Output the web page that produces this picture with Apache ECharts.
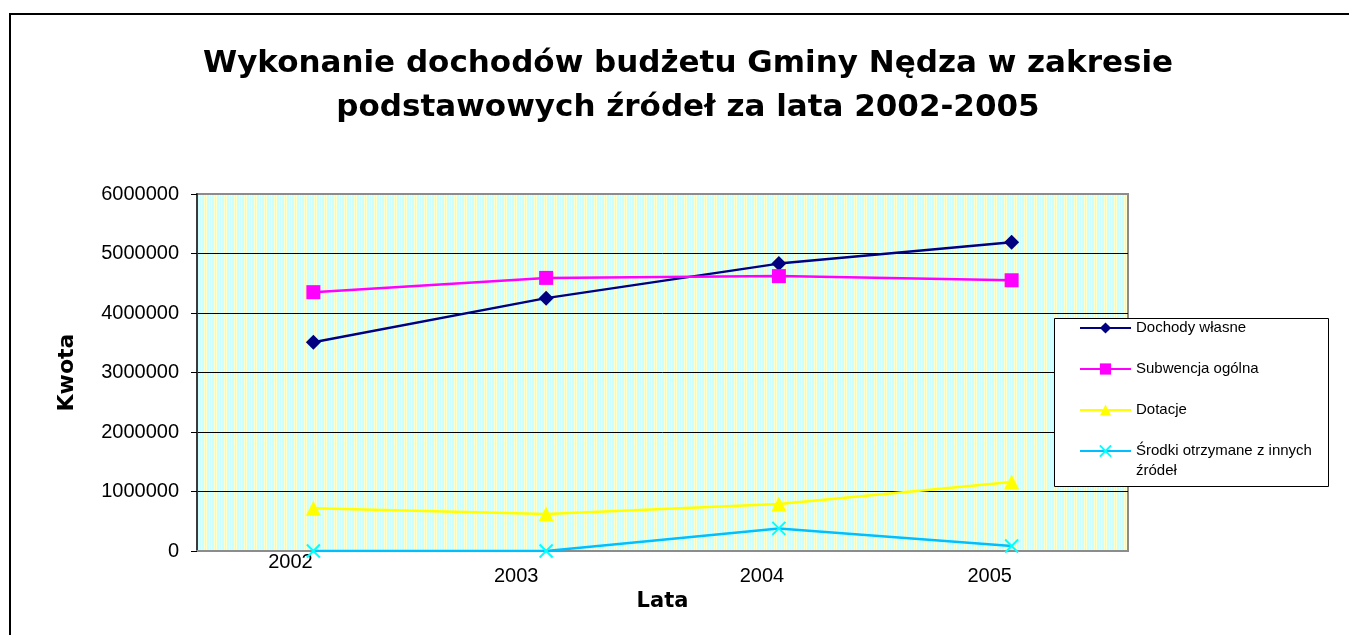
<!DOCTYPE html>
<html>
<head>
<meta charset="utf-8">
<script src="https://cdn.jsdelivr.net/npm/echarts@6/dist/echarts.min.js"></script>
<style>
  html, body { margin: 0; padding: 0; background: #fff; }
  #chart { width: 1349px; height: 635px; }
</style>
</head>
<body>
<div id="chart"></div>
<script>
const years = ['2002', '2003', '2004', '2005']
const yTicks = [0, 1000000, 2000000, 3000000, 4000000, 5000000, 6000000]
const dochodyWlasne = [3510000, 4250000, 4830000, 5190000]
const subwencja = [4350000, 4590000, 4620000, 4550000]
const dotacje = [720000, 620000, 790000, 1160000]
const srodkiInne = [0, 0, 380000, 85000]

const NAMES = ['Dochody własne', 'Subwencja ogólna', 'Dotacje', 'Środki otrzymane z innych źródeł']

// striped plot background like the old Excel fill
const tile = document.createElement('canvas')
const stripes = ['#ccffff', '#ffffcc', '#ccffff', '#ccffff', '#ffffcc']
tile.width = stripes.length
tile.height = 4
const tctx = tile.getContext('2d')
stripes.forEach((c, i) => { tctx.fillStyle = c; tctx.fillRect(i, 0, 1, 4) })

const chart = echarts.init(document.getElementById('chart'), null, { renderer: 'canvas' })

// per-label offsets for the staggered category labels
const labelRich = {
  l0: { fontSize: 20, lineHeight: 20, padding: [0, 46, 0, 0], color: '#000', fontFamily: 'Liberation Sans' },
  l1: { fontSize: 20, lineHeight: 48, padding: [0, 60, 0, 0], color: '#000', fontFamily: 'Liberation Sans' },
  l2: { fontSize: 20, lineHeight: 48, padding: [0, 34, 0, 0], color: '#000', fontFamily: 'Liberation Sans' },
  l3: { fontSize: 20, lineHeight: 48, padding: [0, 44, 0, 0], color: '#000', fontFamily: 'Liberation Sans' },
}

chart.setOption({
  animation: false,
  backgroundColor: '#fff',
  title: {
    text: 'Wykonanie dochodów budżetu Gminy Nędza w zakresie\npodstawowych źródeł za lata 2002-2005',
    left: 683,
    top: 37,
    textAlign: 'center',
    textStyle: { fontFamily: 'DejaVu Sans', fontWeight: 'bold', fontSize: 31, lineHeight: 44, color: '#000' },
  },
  graphic: {
    elements: [
      { type: 'rect', z: 0, silent: true, shape: { x: 10, y: 14, width: 1400, height: 700 },
        style: { fill: 'none', stroke: '#000', lineWidth: 2 } },
      { type: 'rect', z: 10, silent: true, shape: { x: 1054.5, y: 318.5, width: 274, height: 168 },
        style: { fill: '#fff', stroke: '#000', lineWidth: 1 } },
    ],
  },
  legend: [
    {
      data: NAMES.slice(0, 3),
      orient: 'vertical',
      left: 1079, top: 320,
      padding: 0,
      itemGap: 25,
      itemWidth: 51, itemHeight: 14,
      z: 20,
      textStyle: { fontFamily: 'Liberation Sans', fontSize: 15, lineHeight: 16, color: '#000' },
    },
    {
      data: [NAMES[3]],
      orient: 'vertical',
      left: 1079, top: 421,
      padding: 0,
      itemWidth: 51, itemHeight: 14,
      z: 20,
      formatter: () => ' \nŚrodki otrzymane z innych\nźródeł',
      textStyle: { fontFamily: 'Liberation Sans', fontSize: 15, lineHeight: 20, color: '#000' },
    },
  ],
  grid: {
    left: 197, top: 194, right: 221, bottom: 84,
    show: true,
    backgroundColor: { image: tile, repeat: 'repeat' },
    borderColor: '#8c8c8c', borderWidth: 2,
  },
  xAxis: {
    type: 'category',
    data: years,
    boundaryGap: true,
    name: 'Lata',
    nameLocation: 'middle',
    nameGap: 33,
    nameTextStyle: { fontFamily: 'DejaVu Sans', fontWeight: 'bold', fontSize: 21, color: '#000' },
    axisLine: { lineStyle: { color: '#8c8c8c', width: 2 } },
    axisTick: { show: false },
    axisLabel: {
      margin: 1,
      formatter: (v, i) => '{l' + i + '|' + v + '}',
      rich: labelRich,
    },
  },
  yAxis: {
    type: 'value',
    min: yTicks[0],
    max: yTicks[yTicks.length - 1],
    interval: 1000000,
    name: 'Kwota',
    nameLocation: 'middle',
    nameGap: 119,
    nameTextStyle: { fontFamily: 'DejaVu Sans', fontWeight: 'bold', fontSize: 22, color: '#000' },
    axisLine: { show: true, lineStyle: { color: '#3a3a3a', width: 2 } },
    axisTick: { show: true, length: 6, lineStyle: { color: '#000' } },
    axisLabel: { margin: 18, fontFamily: 'Liberation Sans', fontSize: 20, color: '#000', formatter: v => String(v) },
    splitLine: { showMinLine: false, showMaxLine: false, lineStyle: { color: '#000', width: 1 } },
  },
  series: [
    {
      name: NAMES[0], type: 'line', data: dochodyWlasne,
      symbol: 'diamond', symbolSize: 15,
      lineStyle: { color: '#000080', width: 2.5 },
      itemStyle: { color: '#000080' },
    },
    {
      name: NAMES[1], type: 'line', data: subwencja,
      symbol: 'rect', symbolSize: 14,
      lineStyle: { color: '#ff00ff', width: 2.5 },
      itemStyle: { color: '#ff00ff' },
    },
    {
      name: NAMES[2], type: 'line', data: dotacje,
      symbol: 'triangle', symbolSize: 15,
      lineStyle: { color: '#ffff00', width: 2.5 },
      itemStyle: { color: '#ffff00' },
    },
    {
      name: NAMES[3], type: 'line', data: srodkiInne,
      symbol: 'path://M0,0L10,10M10,0L0,10', symbolSize: 13,
      lineStyle: { color: '#00bfff', width: 2.5 },
      itemStyle: { color: '#00ffff', borderColor: '#00ffff', borderWidth: 2 },
    },
  ],
})
</script>
</body>
</html>
